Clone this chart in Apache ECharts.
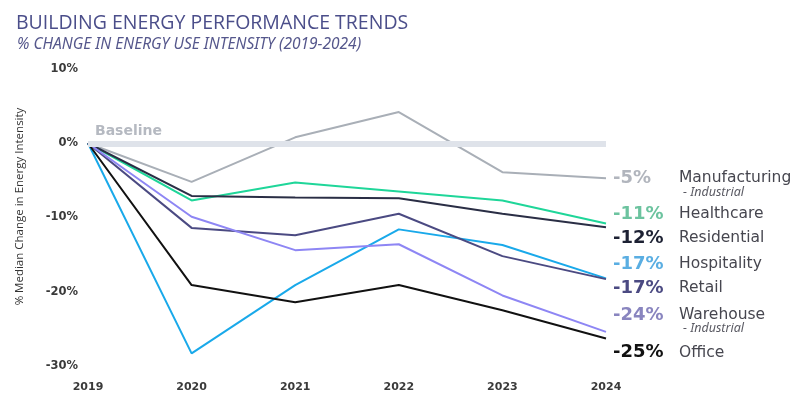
<!DOCTYPE html>
<html lang="en">
<head>
<meta charset="UTF-8">
<title>Building energy performance trends</title>
<script src="https://cdn.jsdelivr.net/npm/echarts@6/dist/echarts.min.js"></script>
<style>
  html, body { margin: 0; padding: 0; background: #fff; }
  #main { width: 810px; height: 397px; }
</style>
</head>
<body>
<div id="main"></div>
<script>
// data
var years = ['2019', '2020', '2021', '2022', '2023', '2024'];
var manufacturing = [0, -5.2, 0.8, 4.2, -3.9, -4.7];
var healthcare = [0, -7.7, -5.3, -6.5, -7.7, -10.8];
var residential = [0, -7.1, -7.3, -7.4, -9.5, -11.3];
var hospitality = [0, -28.3, -19.1, -11.6, -13.7, -18.2];
var retail = [0, -11.4, -12.4, -9.5, -15.2, -18.3];
var warehouse = [0, -9.9, -14.4, -13.6, -20.5, -25.4];
var office = [0, -19.1, -21.4, -19.1, -22.5, -26.3];
var baseline = [0, 0, 0, 0, 0, 0];

var names = ['Manufacturing', 'Healthcare', 'Residential', 'Hospitality', 'Retail', 'Warehouse', 'Office'];
var subNames = ['- Industrial', '', '', '', '', '- Industrial', ''];
var endPct = ['-5%', '-11%', '-12%', '-17%', '-17%', '-24%', '-25%'];

var lineColors = ['#a9afb7', '#1fd699', '#2a2e45', '#19a9ea', '#4b4a82', '#8e86f4', '#111111'];
var pctColors = ['#b1b5bd', '#6cc39f', '#1d2133', '#5aaee2', '#4b4a82', '#8985bf', '#111111'];
var labelOffsets = [[-1, 5], [-1, -9], [-1, 11], [-1, -14], [-1, 9], [-1, -12], [-1, 14]];

var allData = [manufacturing, healthcare, residential, hospitality, retail, warehouse, office];

var myChart = echarts.init(document.getElementById('main'));

var series = [{
  name: 'Baseline',
  type: 'line',
  data: baseline,
  symbol: 'none',
  silent: true,
  z: 1,
  lineStyle: { width: 0, opacity: 0 },
  markLine: {
    silent: true,
    symbol: 'none',
    lineStyle: { color: '#dfe3ea', width: 6, type: 'solid' },
    label: {
      show: true,
      position: 'insideStartTop',
      formatter: 'Baseline',
      color: '#b5b9c1',
      fontWeight: 'bold',
      fontSize: 14,
      fontFamily: 'DejaVu Sans',
      distance: [7, 5]
    },
    data: [{ yAxis: 0 }]
  }
}];

for (var i = 0; i < names.length; i++) {
  var fmt = '{p|' + endPct[i] + '}{n|' + names[i] + '}';
  if (subNames[i]) fmt += '\n{s|' + subNames[i] + '}';
  series.push({
    name: names[i],
    type: 'line',
    data: allData[i],
    symbol: 'none',
    z: 3,
    lineStyle: { color: lineColors[i], width: 2 },
    itemStyle: { color: lineColors[i] },
    endLabel: {
      show: true,
      offset: labelOffsets[i],
      formatter: fmt,
      rich: {
        p: { color: pctColors[i], fontSize: 18, fontWeight: 'bold', fontFamily: 'DejaVu Sans', width: 66, lineHeight: 18 },
        n: { color: '#46464f', fontSize: 15.5, fontFamily: 'DejaVu Sans', lineHeight: 18 },
        s: { color: '#5a5a63', fontSize: 12.5, fontStyle: 'italic', fontFamily: 'Noto Sans', padding: [0, 0, 0, 70], lineHeight: 10 }
      }
    }
  });
}

var options = {
  animation: false,
  backgroundColor: '#ffffff',
  title: [{
    text: 'BUILDING ENERGY PERFORMANCE TRENDS',
    left: 11,
    top: 8,
    textStyle: { color: '#4b4e8a', fontSize: 19.5, fontWeight: 'normal', fontFamily: 'Open Sans' }
  }, {
    text: '% CHANGE IN ENERGY USE INTENSITY (2019-2024)',
    left: 12,
    top: 32,
    textStyle: { color: '#55578c', fontSize: 15.5, fontWeight: 'normal', fontStyle: 'italic', fontFamily: 'Noto Sans' }
  }],
  grid: { left: 88, right: 204, top: 69, bottom: 31 },
  xAxis: {
    type: 'category',
    data: years,
    boundaryGap: false,
    axisLine: { show: false },
    axisTick: { show: false },
    axisLabel: { color: '#3a3a3a', fontWeight: 'bold', fontSize: 11, fontFamily: 'DejaVu Sans', margin: 16 }
  },
  yAxis: {
    type: 'value',
    min: -30,
    max: 10,
    interval: 10,
    name: '% Median Change in Energy Intensity',
    nameLocation: 'middle',
    nameGap: 62,
    nameTextStyle: { color: '#333', fontSize: 11.5, fontFamily: 'Open Sans', padding: [0, 0, 0, 22] },
    axisLine: { show: false },
    axisTick: { show: false },
    splitLine: { show: false },
    axisLabel: {
      formatter: '{value}%',
      color: '#3a3a3a',
      fontWeight: 'bold',
      fontSize: 11.5,
      fontFamily: 'DejaVu Sans',
      margin: 10
    }
  },
  series: series
};

myChart.setOption(options);
</script>
</body>
</html>
